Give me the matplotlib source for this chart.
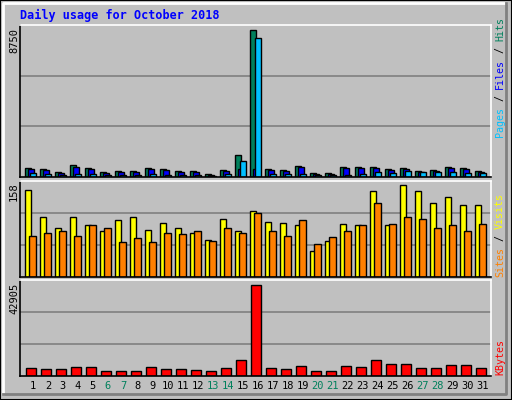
import matplotlib
matplotlib.use('Agg')
import matplotlib.pyplot as plt
from matplotlib.patches import Rectangle
from matplotlib.lines import Line2D
import numpy as np

days = list(range(1, 32))
weekend = [6, 7, 13, 14, 20, 21, 27, 28]

hits = [555, 495, 317, 693, 555, 317, 376, 376, 555, 495, 376, 376, 198, 436, 1327, 8750,
        495, 436, 673, 257, 257, 614, 614, 614, 495, 555, 376, 436, 614, 555, 376]
files = [495, 436, 257, 614, 495, 257, 317, 317, 495, 436, 317, 317, 139, 376, 495, 495,
         436, 376, 614, 198, 198, 555, 555, 555, 436, 495, 317, 376, 555, 495, 317]
pages = [257, 198, 139, 198, 198, 139, 139, 139, 198, 139, 139, 139, 79, 198, 970, 8295,
         198, 198, 198, 139, 139, 139, 198, 317, 257, 376, 317, 317, 317, 257, 257]
visits = [144, 99, 81, 99, 85, 76, 93, 98, 78, 89, 81, 73, 61, 96, 76, 108,
          91, 89, 85, 43, 60, 88, 86, 142, 85, 152, 142, 122, 131, 119, 119]
sites = [68, 73, 76, 68, 86, 80, 57, 65, 58, 73, 70, 75, 60, 81, 73, 106,
         76, 68, 94, 55, 66, 75, 85, 122, 88, 99, 96, 80, 85, 75, 88]
kbytes = [3900, 3450, 3450, 4380, 4380, 2500, 2500, 2500, 4380, 3450, 3450, 2980, 2500, 3900, 7670, 42905,
          3900, 3450, 4850, 2500, 2500, 4850, 4380, 7670, 5790, 5790, 3900, 3900, 5320, 5320, 3900]

W, H = 512, 400
fig = plt.figure(figsize=(5.12, 4.0), dpi=100, facecolor='#C0C0C0')
mono = 'DejaVu Sans Mono'

# bevel border
fig.add_artist(Rectangle((0, 0), 1, 1, transform=fig.transFigure, fill=False, ec='black', lw=1.5))
fig.add_artist(Line2D([3/W, 3/W, 1-6/W], [6/H, 1-3/H, 1-3/H], transform=fig.transFigure, color='white', lw=2))
fig.add_artist(Line2D([3/W, 1-6/W, 1-6/W], [6/H, 6/H, 1-3/H], transform=fig.transFigure, color='#808080', lw=2))

x = np.array(days, dtype=float)
left, right = 20/W, 491/W

def panel(top, bot, ymax):
    ax = fig.add_axes([left, 1-bot/H, right-left, (bot-top)/H])
    ax.set_facecolor('#C0C0C0')
    ax.set_xlim(0.67, 32.07)
    ax.set_ylim(0, ymax)
    for f in (1/3, 2/3):
        ax.axhline(ymax*f, color='#808080', lw=1.2, zorder=0)
    ax.set_xticks([])
    ax.set_yticks([])
    for s in ax.spines.values():
        s.set_linewidth(1.2)
    ax.spines['top'].set_color('white')
    ax.spines['right'].set_color('white')
    return ax

bk = dict(align='edge', edgecolor='black', linewidth=1)

ax1 = panel(25, 177, 9048)
ax1.bar(x, hits, 0.4, color='#00805C', **bk)
ax1.bar(x+0.2, files, 0.4, color='#0000FF', **bk)
ax1.bar(x+0.33, pages, 0.4, color='#00C0FF', **bk)

ax2 = panel(181, 277, 158)
ax2.bar(x, visits, 0.4, color='#FFFF00', **bk)
ax2.bar(x+0.27, sites, 0.46, color='#FF8000', **bk)

ax3 = panel(280, 376, 45100)
ax3.bar(x+0.07, kbytes, 0.66, color='#FF0000', **bk)

for d in days:
    ax3.text(d+0.53, -0.05, str(d), transform=ax3.get_xaxis_transform(), ha='center', va='top',
             fontsize=7.5, family=mono, color='#00805C' if d in weekend else 'black')

fig.text(20/W, 1-15/H, 'Daily usage for October 2018', color='#0000FF', family=mono,
         fontsize=8.5, weight='bold', va='center')

for txt, ytop in [('8750', 28), ('158', 182), ('42905', 283)]:
    fig.text(14/W, 1-ytop/H, txt, rotation=90, family=mono, fontsize=7.5, ha='center', va='top')

def side(parts, ybot):
    y = ybot
    for t, c in parts:
        fig.text(500/W, 1-y/H, t, rotation=90, family=mono, fontsize=7.2, color=c,
                 ha='center', va='bottom')
        y -= len(t)*6.0

side([('Pages', '#00C0FF'), (' / ', '#000000'), ('Files', '#0000FF'), (' / ', '#000000'), ('Hits', '#00805C')], 137)
side([('Sites', '#FF8000'), (' / ', '#000000'), ('Visits', '#FFFF00')], 277)
side([('KBytes', '#FF0000')], 375)

fig.savefig('out.png', dpi=100, facecolor=fig.get_facecolor())
